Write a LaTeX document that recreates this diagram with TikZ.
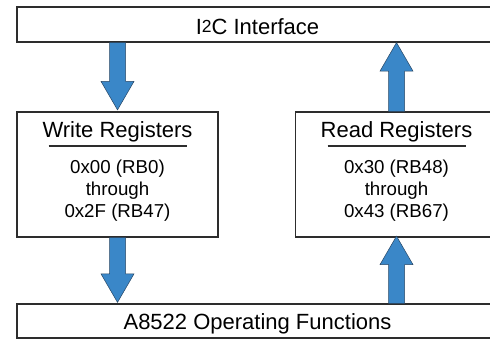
\documentclass[tikz,border=0pt]{standalone}
\usepackage{fontspec}
\setmainfont{Liberation Sans}
\usetikzlibrary{calc}
\definecolor{arrowblue}{RGB}{58,135,200}
\definecolor{arrowedge}{RGB}{40,70,100}
\definecolor{boxline}{RGB}{45,45,45}
\tikzset{
  box/.style={draw=boxline, line width=1.2pt, fill=white, rectangle, inner sep=0pt},
  bigtext/.style={font=\fontsize{22}{26}\selectfont, anchor=base, inner sep=0pt},
  smalltext/.style={font=\fontsize{18.7}{22}\selectfont, anchor=base, inner sep=0pt},
  blockarrow/.style={fill=arrowblue, draw=arrowedge, line width=0.5pt, line join=miter},
}
\newcommand\blockarrow[2]{%
  \path[blockarrow] let \p1=(#1), \p2=(#2), \n1={sign(\y2-\y1)} in
    ({\x1-8pt},{\y1}) -- ({\x1-8pt},{\y2-\n1*28.5pt}) -- ({\x1-16.5pt},{\y2-\n1*28.5pt})
    -- ({\x2},{\y2}) -- ({\x1+16.5pt},{\y2-\n1*28.5pt}) -- ({\x1+8pt},{\y2-\n1*28.5pt})
    -- ({\x1+8pt},{\y1}) -- cycle;}
\begin{document}
\begin{tikzpicture}[x=1pt,y=-1pt]
\useasboundingbox (0,0) rectangle (490,339);
\clip (0,0) rectangle (490,339);
% boxes
\node[box, minimum width=481pt, minimum height=35pt] (top) at (257.5,24.5) {};
\node[box, minimum width=201pt, minimum height=125pt] (write) at (117.5,174.5) {};
\node[box, minimum width=202pt, minimum height=125pt] (read) at (396.5,174.5) {};
\node[box, minimum width=481pt, minimum height=34pt] (bottom) at (257.5,321) {};
% texts
\node[bigtext] (toptext) at ($(top.south)+(0,-7.7)$) {I\raisebox{2.7pt}{\fontsize{17.5}{18}\selectfont 2}C Interface};
\node[bigtext] (bottext) at ($(bottom.south)+(0,-8.7)$) {A8522 Operating Functions};
\node[bigtext] (wtitle) at ($(write.north)+(0,25.7)$) {Write Registers};
\draw[boxline, line width=1.2pt] ($(write.north)+(-69,34.7)$) coordinate (wl1) -- ($(write.north)+(69,34.7)$) coordinate (wl2);
\node[smalltext] (w1) at ($(write.north)+(0,62.3)$) {0x00 (RB0)};
\node[smalltext] (w2) at ($(write.north)+(0,84.2)$) {through};
\node[smalltext] (w3) at ($(write.north)+(0,106.3)$) {0x2F (RB47)};
\node[bigtext] (rtitle) at ($(read.north)+(0,25.7)$) {Read Registers};
\draw[boxline, line width=1.2pt] ($(read.north)+(-69,34.7)$) coordinate (rl1) -- ($(read.north)+(69,34.7)$) coordinate (rl2);
\node[smalltext] (r1) at ($(read.north)+(0,62.3)$) {0x30 (RB48)};
\node[smalltext] (r2) at ($(read.north)+(0,84.2)$) {through};
\node[smalltext] (r3) at ($(read.north)+(0,106.3)$) {0x43 (RB67)};
% arrows
\coordinate (a1s) at (write.north |- top.south);
\coordinate (a1e) at ($(write.north)+(0,-1.5)$);
\blockarrow{a1s}{a1e}
\coordinate (a2s) at (read.north);
\coordinate (a2e) at (read.north |- top.south);
\blockarrow{a2s}{a2e}
\coordinate (a3s) at (write.south);
\coordinate (a3e) at ($(write.south |- bottom.north)+(0,-1)$);
\blockarrow{a3s}{a3e}
\coordinate (a4s) at (read.south |- bottom.north);
\coordinate (a4e) at ($(read.south)+(0,-1.5)$);
\blockarrow{a4s}{a4e}
\end{tikzpicture}
\end{document}
